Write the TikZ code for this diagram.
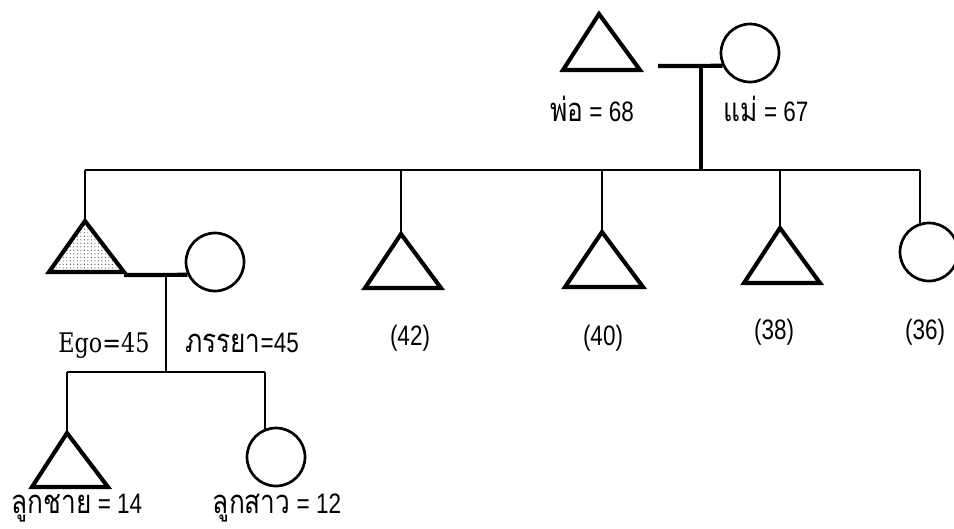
\documentclass[tikz,border=0pt]{standalone}
\usepackage{fontspec}
\newfontfamily\thaifont[Script=Thai,FakeStretch=0.8]{Loma}
\newfontfamily\sansf[FakeStretch=0.8]{Liberation Sans}
\newfontfamily\serf[FakeStretch=0.83]{DejaVu Serif}
\newcommand{\thtxt}[1]{{\thaifont\fontsize{28}{32}\selectfont #1}}
\usetikzlibrary{patterns}
\begin{document}
\begin{tikzpicture}[x=0.03cm,y=-0.03cm,
  tri/.style={draw, line width=3.5pt, line join=miter},
  circ/.style={circle, draw, line width=2.3pt, minimum size=1.74cm, inner sep=0pt},
  marr/.style={line width=3.6pt},
  link/.style={line width=2.1pt},
  sib/.style={line width=1.7pt},
  lab/.style={font=\sansf\fontsize{24}{28}\selectfont, anchor=base, inner sep=0pt},
  rlab/.style={font=\serf\fontsize{23}{27}\selectfont, anchor=base, inner sep=0pt}]
\useasboundingbox[fill=white] (0,0) rectangle (954,528);
\clip (0,0) rectangle (954,528);

% ---------- parents ----------
\coordinate (fa) at (599,14);
\draw[tri] (fa) -- (563,70) -- (640,70) -- cycle;
\node[circ] (mo) at (750,53) {};
\coordinate (fam) at (658,66);
\draw[marr] (fam) -- (mo.205.7);
\coordinate (pdesc) at (701,66);
\coordinate (pline) at (701,170);
\draw[link, line width=2.7pt] (pdesc) -- (pline);
\node[lab] (lfa) at (592,121) {\thtxt{พ่อ} = 68};
\node[lab] (lmo) at (766,121) {\thtxt{แม่} = 67};

% ---------- sibling line ----------
\coordinate (sl) at (85,170);
\coordinate (sr) at (920,170);
\draw[sib] (sl) -- (sr);

% Ego
\coordinate (ego) at (85,221);
\draw[tri, pattern=dots, pattern color=black!75] (ego) -- (49,272) -- (124,272) -- cycle;
\draw[link] (sl) -- (ego);
\node[circ] (wife) at (215,262) {};
\coordinate (egom) at (124,275);
\draw[marr] (egom) -- (wife.205.7);
\node[rlab] (lego) at (104,352) {Ego=45};
\node[lab] (lwife) at (242,352) {\thtxt{ภรรยา}=45};

% siblings
\coordinate (s42) at (401,170);
\coordinate (t42) at (401,234);
\draw[link] (s42) -- (t42);
\draw[tri] (t42) -- (365,288) -- (441,288) -- cycle;
\node[lab] (l42) at (410,345) {(42)};

\coordinate (s40) at (602,170);
\coordinate (t40) at (602,232);
\draw[link] (s40) -- (t40);
\draw[tri] (t40) -- (565,287) -- (643,287) -- cycle;
\node[lab] (l40) at (603,345) {(40)};

\coordinate (s38) at (780,170);
\coordinate (t38) at (780,228);
\draw[link] (s38) -- (t38);
\draw[tri] (t38) -- (744,283) -- (820,283) -- cycle;
\node[lab] (l38) at (774,339) {(38)};

\node[circ] (sis) at (929,252) {};
\coordinate (s36) at (920,170);
\draw[link] (s36) -- (s36 |- sis.107.5);
\node[lab] (l36) at (925,339) {(36)};

% ---------- children ----------
\coordinate (edesc) at (166,275);
\coordinate (echild) at (166,372);
\draw[link] (edesc) -- (echild);
\coordinate (cl) at (67,372);
\coordinate (cr) at (265,372);
\draw[sib] (cl) -- (cr);

\coordinate (son) at (67,433);
\draw[link] (cl) -- (son);
\draw[tri] (son) -- (32,487) -- (108,487) -- cycle;
\node[lab] (lson) at (77,513) {\thtxt{ลูกชาย} = 14};

\node[circ] (dau) at (276,457) {};
\draw[link] (cr) -- (cr |- dau.111.5);
\node[lab] (ldau) at (277,513) {\thtxt{ลูกสาว} = 12};
\end{tikzpicture}
\end{document}
